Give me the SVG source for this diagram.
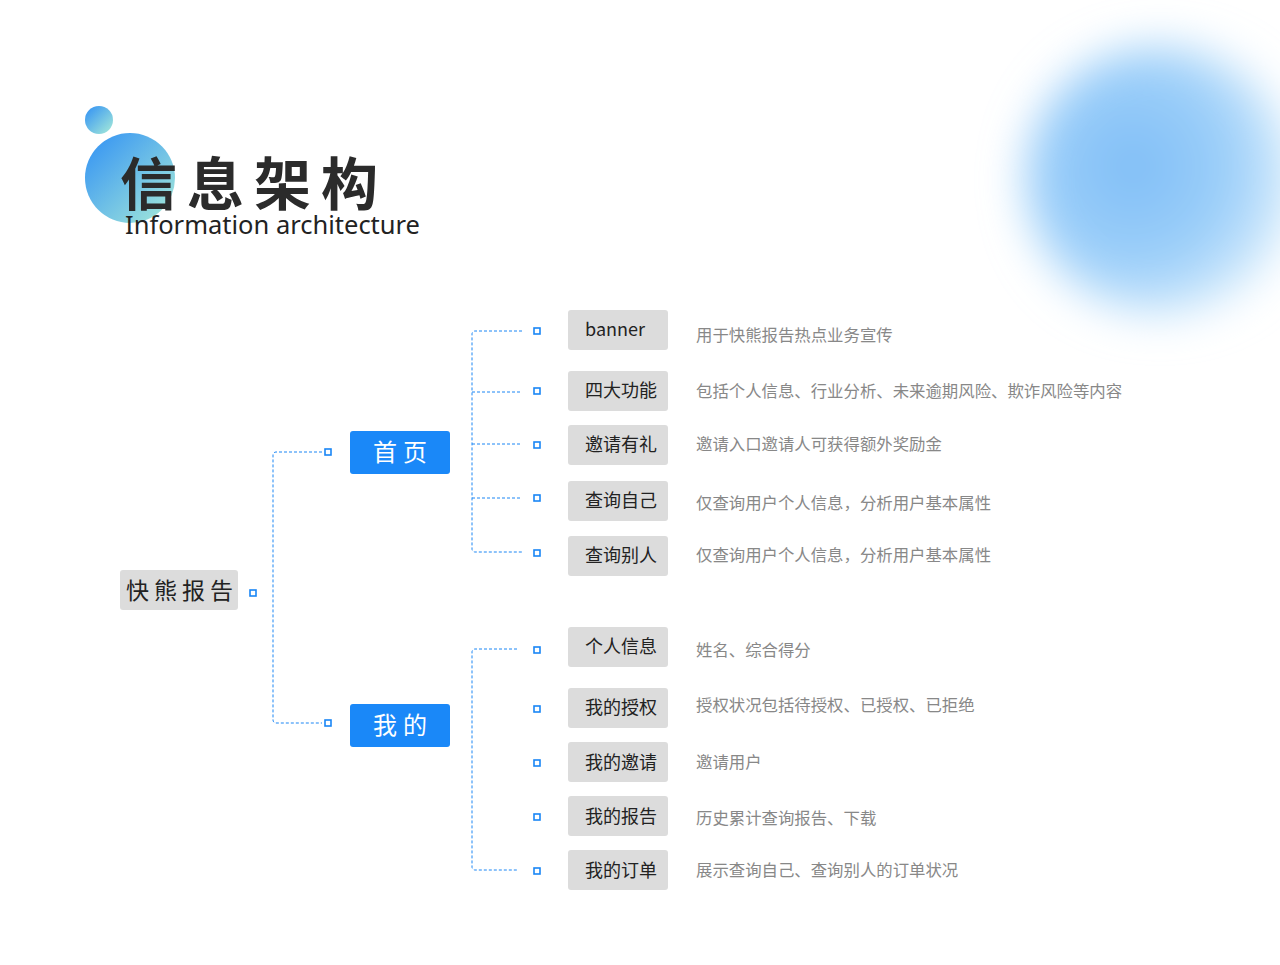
<svg xmlns="http://www.w3.org/2000/svg" width="1280" height="965" viewBox="0 0 1280 965">
<defs>
<linearGradient id="g1" x1="0" y1="0" x2="1" y2="1"><stop offset="0" stop-color="#2f8ff5"/><stop offset="1" stop-color="#a8ecd8"/></linearGradient>
<radialGradient id="g2" cx="0.4" cy="0.45" r="0.6"><stop offset="0" stop-color="#7fbdf7"/><stop offset="0.6" stop-color="#9ccff9"/><stop offset="1" stop-color="#d6ecfc"/></radialGradient>
<filter id="blur" x="-50%" y="-50%" width="200%" height="200%"><feGaussianBlur stdDeviation="22"/></filter>
</defs>
<style>
.ln{fill:none;stroke:#1a86f5;stroke-width:1;stroke-dasharray:3 2}
.sq{fill:#fff;stroke:#1a86f5;stroke-width:1.6}
.gb{fill:#dcdcdc}
.bb{fill:#1a88f8}
.t{font-family:"Noto Sans CJK SC","Noto Sans",sans-serif;font-size:18px;fill:#222;text-anchor:middle}
.r{font-family:"Noto Sans CJK SC",sans-serif;font-size:23px;fill:#222;text-anchor:middle;letter-spacing:5px}
.d{font-family:"Noto Sans CJK SC",sans-serif;font-size:16.4px;fill:#888}
.w{font-family:"Noto Sans CJK SC",sans-serif;font-size:24px;fill:#fff;text-anchor:middle;letter-spacing:6px}
</style>
<rect width="1280" height="965" fill="#fff"/>
<circle cx="1160" cy="180" r="135" fill="url(#g2)" filter="url(#blur)"/>
<g id="title">
<circle cx="99" cy="120" r="14" fill="url(#g1)"/>
<circle cx="130" cy="178" r="45" fill="url(#g1)"/>
<text x="120" y="205" font-family="Noto Sans CJK SC,sans-serif" font-size="57" font-weight="bold" fill="#2b2b2b" letter-spacing="10">信息架构</text>
<text x="125" y="234" font-family="Noto Sans,sans-serif" font-size="25.5" fill="#222">Information architecture</text>
</g>
<g id="connectors">
<path class="ln" d="M322 452H276a3 3 0 0 0-3 3V720a3 3 0 0 0 3 3H322"/>
<path class="ln" d="M522 331H475a3 3 0 0 0-3 3V549a3 3 0 0 0 3 3H522M472 392H522M472 444H522M472 498H522"/>
<path class="ln" d="M517 649H475a3 3 0 0 0-3 3V867a3 3 0 0 0 3 3H517"/>
</g>
<g id="squares">
<rect class="sq" x="250" y="590" width="6" height="6"/>
<rect class="sq" x="325" y="449" width="6" height="6"/>
<rect class="sq" x="325" y="720" width="6" height="6"/>
<rect class="sq" x="534" y="328" width="6" height="6"/>
<rect class="sq" x="534" y="388" width="6" height="6"/>
<rect class="sq" x="534" y="442" width="6" height="6"/>
<rect class="sq" x="534" y="495" width="6" height="6"/>
<rect class="sq" x="534" y="550" width="6" height="6"/>
<rect class="sq" x="534" y="647" width="6" height="6"/>
<rect class="sq" x="534" y="706" width="6" height="6"/>
<rect class="sq" x="534" y="760" width="6" height="6"/>
<rect class="sq" x="534" y="814" width="6" height="6"/>
<rect class="sq" x="534" y="868" width="6" height="6"/>
</g>
<g id="root"><rect class="gb" x="120" y="570" width="118" height="40" rx="3"/><text class="r" x="182" y="599">快熊报告</text></g>
<g id="home"><rect class="bb" x="350" y="431" width="100" height="43" rx="3"/><text class="w" x="403" y="461">首页</text></g>
<g id="mine"><rect class="bb" x="350" y="704" width="100" height="43" rx="3"/><text class="w" x="403" y="734">我的</text></g>
<g id="n1"><rect class="gb" x="568" y="310" width="100" height="40" rx="3"/><text class="t" x="615" y="336">banner</text><text class="d" x="696" y="341">用于快熊报告热点业务宣传</text></g>
<g id="n2"><rect class="gb" x="568" y="371" width="100" height="40" rx="3"/><text class="t" x="621" y="397">四大功能</text><text class="d" x="696" y="397">包括个人信息、行业分析、未来逾期风险、欺诈风险等内容</text></g>
<g id="n3"><rect class="gb" x="568" y="425" width="100" height="40" rx="3"/><text class="t" x="621" y="451">邀请有礼</text><text class="d" x="696" y="450">邀请入口邀请人可获得额外奖励金</text></g>
<g id="n4"><rect class="gb" x="568" y="481" width="100" height="40" rx="3"/><text class="t" x="621" y="507">查询自己</text><text class="d" x="696" y="509">仅查询用户个人信息，分析用户基本属性</text></g>
<g id="n5"><rect class="gb" x="568" y="536" width="100" height="40" rx="3"/><text class="t" x="621" y="562">查询别人</text><text class="d" x="696" y="561">仅查询用户个人信息，分析用户基本属性</text></g>
<g id="n6"><rect class="gb" x="568" y="627" width="100" height="40" rx="3"/><text class="t" x="621" y="653">个人信息</text><text class="d" x="696" y="656">姓名、综合得分</text></g>
<g id="n7"><rect class="gb" x="568" y="688" width="100" height="40" rx="3"/><text class="t" x="621" y="714">我的授权</text><text class="d" x="696" y="711">授权状况包括待授权、已授权、已拒绝</text></g>
<g id="n8"><rect class="gb" x="568" y="742" width="100" height="40" rx="3"/><text class="t" x="621" y="769">我的邀请</text><text class="d" x="696" y="768">邀请用户</text></g>
<g id="n9"><rect class="gb" x="568" y="796" width="100" height="40" rx="3"/><text class="t" x="621" y="823">我的报告</text><text class="d" x="696" y="824">历史累计查询报告、下载</text></g>
<g id="n10"><rect class="gb" x="568" y="850" width="100" height="40" rx="3"/><text class="t" x="621" y="877">我的订单</text><text class="d" x="696" y="876">展示查询自己、查询别人的订单状况</text></g>
</svg>
